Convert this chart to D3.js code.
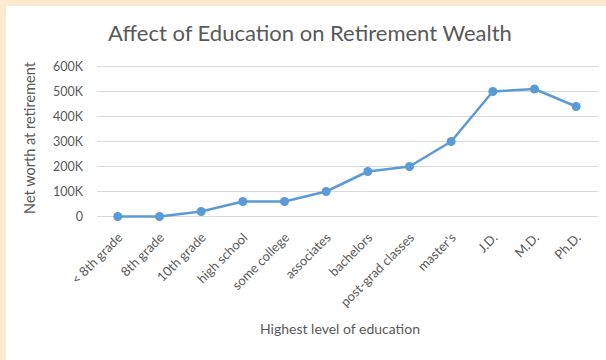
<!DOCTYPE html>
<html>
<head>
<meta charset="utf-8">
<script src="https://cdn.jsdelivr.net/npm/d3@7"></script>
<style>
  body { margin: 0; background: #fff; }
  svg { display: block; font-family: Lato, "Open Sans", sans-serif; }
  .tick text { fill: #595959; }
</style>
</head>
<body>
<svg width="606" height="360"></svg>
<script>
var categories = ["< 8th grade", "8th grade", "10th grade", "high school", "some college", "associates",
                  "bachelors", "post-grad classes", "master's", "J.D.", "M.D.", "Ph.D."];
var netWorth = [0, 0, 20000, 60000, 60000, 100000, 180000, 200000, 300000, 500000, 510000, 440000];
var yTicks = [0, 100000, 200000, 300000, 400000, 500000, 600000];

var svg = d3.select("svg"),
    W = 606, H = 360;

// peach frame + white panel
svg.append("rect").attr("width", W).attr("height", H).attr("fill", "#fde9cf");
svg.append("rect").attr("x", 6).attr("y", 6).attr("width", W - 6).attr("height", H - 6).attr("fill", "#fff");

var x = d3.scalePoint().domain(categories).range([97, 597]).padding(0.5),
    y = d3.scaleLinear().domain([0, 600000]).range([216.5, 66.5]);

var data = categories.map(function(c, i) { return { cat: c, v: netWorth[i] }; });

// gridlines
svg.append("g")
    .selectAll("line")
    .data(yTicks)
    .enter().append("line")
    .attr("x1", 97).attr("x2", 598)
    .attr("y1", function(d) { return y(d); })
    .attr("y2", function(d) { return y(d); })
    .attr("stroke", "#d9d9d9")
    .attr("stroke-width", 1);

// y axis labels
var yAxis = svg.append("g")
    .attr("transform", "translate(97,0)")
    .call(d3.axisLeft(y).tickValues(yTicks).tickSize(0).tickPadding(14)
        .tickFormat(function(d) { return d === 0 ? "0" : (d / 1000) + "K"; }));
yAxis.select(".domain").remove();
yAxis.selectAll("text").attr("font-size", 12.5).attr("font-family", "Lato, sans-serif");

// x axis labels
var xAxis = svg.append("g")
    .attr("transform", "translate(0,216.5)")
    .call(d3.axisBottom(x).tickSize(0).tickPadding(0));
xAxis.select(".domain").remove();
xAxis.selectAll("text")
    .attr("font-size", 13)
    .attr("font-family", "Lato, sans-serif")
    .attr("text-anchor", "end")
    .attr("dy", null)
    .attr("y", 0)
    .attr("transform", "translate(5,22) rotate(-45)");

// line
var line = d3.line()
    .x(function(d) { return x(d.cat); })
    .y(function(d) { return y(d.v); });

svg.append("path")
    .datum(data)
    .attr("d", line)
    .attr("fill", "none")
    .attr("stroke", "#5b9bd5")
    .attr("stroke-width", 2.5)
    .attr("stroke-linejoin", "round");

svg.append("g")
    .selectAll("circle")
    .data(data)
    .enter().append("circle")
    .attr("cx", function(d) { return x(d.cat); })
    .attr("cy", function(d) { return y(d.v); })
    .attr("r", 4.5)
    .attr("fill", "#5b9bd5");

// titles
svg.append("text")
    .attr("x", 310).attr("y", 41)
    .attr("text-anchor", "middle")
    .attr("font-size", 22)
    .attr("fill", "#595959")
    .text("Affect of Education on Retirement Wealth");

svg.append("text")
    .attr("transform", "translate(35,138) rotate(-90)")
    .attr("text-anchor", "middle")
    .attr("font-size", 14.5)
    .attr("fill", "#595959")
    .text("Net worth at retirement");

svg.append("text")
    .attr("x", 340).attr("y", 334)
    .attr("text-anchor", "middle")
    .attr("font-size", 14)
    .attr("fill", "#595959")
    .text("Highest level of education");
</script>
</body>
</html>
